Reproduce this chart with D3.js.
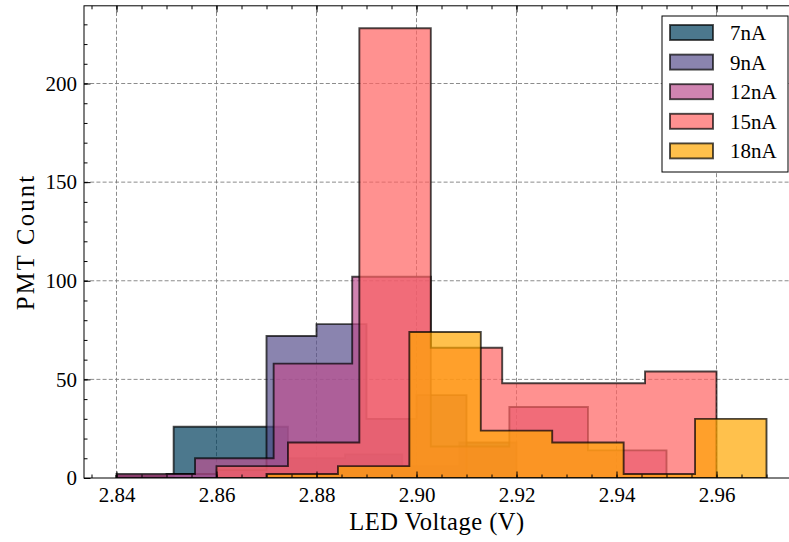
<!DOCTYPE html>
<html>
<head>
<meta charset="utf-8">
<script src="https://cdn.jsdelivr.net/npm/d3@7"></script>
<style>
  html, body { margin: 0; padding: 0; background: #fff; }
  svg { display: block; }
  text { font-family: "Liberation Serif", "DejaVu Serif", serif; fill: #000; }
</style>
</head>
<body>
<svg id="chart" width="789" height="542"></svg>
<script>
// Histogram bin edges (V) and counts for each LED current setting
const seriesNames = ["7nA", "9nA", "12nA", "15nA", "18nA"];
const seriesColors = ["#003f5c", "#58508d", "#bc5090", "#ff6361", "#ffa600"];

const edges7nA  = [2.84, 2.85143, 2.86286, 2.87429, 2.88571, 2.89714, 2.90857, 2.92];
const counts7nA = [1, 26, 26, 10, 12, 6, 18];

const edges9nA  = [2.84, 2.85, 2.86, 2.87, 2.88, 2.89, 2.90, 2.91];
const counts9nA = [1, 2, 4, 72, 78, 30, 42];

const edges12nA  = [2.84, 2.85571, 2.87143, 2.88714, 2.90286, 2.91857, 2.93429, 2.95];
const counts12nA = [2, 10, 58, 102, 16, 36, 14];

const edges15nA  = [2.86, 2.87429, 2.88857, 2.90286, 2.91714, 2.93143, 2.94571, 2.96];
const counts15nA = [6, 18, 228, 66, 48, 48, 54];

const edges18nA  = [2.87, 2.88429, 2.89857, 2.91286, 2.92714, 2.94143, 2.95571, 2.97];
const counts18nA = [2, 6, 74, 24, 18, 2, 30];

const xTickValues = [2.84, 2.86, 2.88, 2.90, 2.92, 2.94, 2.96];
const yTickValues = [0, 50, 100, 150, 200];

const xLabel = "LED Voltage (V)";
const yLabel = "PMT Count";

const allEdges = [edges7nA, edges9nA, edges12nA, edges15nA, edges18nA];
const allCounts = [counts7nA, counts9nA, counts12nA, counts15nA, counts18nA];

const svg = d3.select("#chart");
const plot = { left: 84, right: 799, top: 5.8, bottom: 478 };

// x gets 5% padding on each side of the data span; y starts at zero
const xMin = d3.min(allEdges, e => e[0]);
const xMax = d3.max(allEdges, e => e[e.length - 1]);
const xPad = (xMax - xMin) * 0.05;
const yMax = d3.max(allCounts, c => d3.max(c)) * 1.05;

const x = d3.scaleLinear().domain([xMin - xPad, xMax + xPad]).range([plot.left, plot.right]);
const y = d3.scaleLinear().domain([0, yMax]).range([plot.bottom, plot.top]);

svg.append("defs").append("clipPath").attr("id", "plotClip")
  .append("rect").attr("x", plot.left).attr("y", plot.top)
  .attr("width", plot.right - plot.left).attr("height", plot.bottom - plot.top);

// dashed grid
const grid = svg.append("g").attr("class", "grid");
grid.selectAll("line.gx").data(xTickValues).join("line")
  .attr("x1", d => x(d)).attr("x2", d => x(d))
  .attr("y1", plot.top).attr("y2", plot.bottom)
  .attr("stroke", "#7f7f7f").attr("stroke-width", 0.9).attr("stroke-dasharray", "4,2.2");
grid.selectAll("line.gy").data(yTickValues.filter(v => v > 0)).join("line")
  .attr("x1", plot.left).attr("x2", plot.right)
  .attr("y1", d => y(d)).attr("y2", d => y(d))
  .attr("stroke", "#7f7f7f").attr("stroke-width", 0.9).attr("stroke-dasharray", "4,2.2");

// step-filled histograms
function stepPoints(edges, counts) {
  const pts = [[edges[0], 0]];
  counts.forEach((c, i) => {
    pts.push([edges[i], c]);
    pts.push([edges[i + 1], c]);
  });
  pts.push([edges[edges.length - 1], 0]);
  return pts;
}
const line = d3.line().x(d => x(d[0])).y(d => y(d[1]));

const hist = svg.append("g").attr("clip-path", "url(#plotClip)");
seriesNames.forEach((name, i) => {
  hist.append("path")
    .attr("d", line(stepPoints(allEdges[i], allCounts[i])) + "Z")
    .attr("fill", seriesColors[i]).attr("fill-opacity", 0.7)
    .attr("stroke", "#000").attr("stroke-opacity", 0.7)
    .attr("stroke-width", 1.9).attr("stroke-linejoin", "miter");
});

// axes: inward ticks on all four sides, with minor ticks
const xMinor = d3.range(2.835, 2.9766, 0.005);
const yMinor = d3.range(0, 240, 10);

function styleAxis(g) {
  g.select(".domain").remove();
  g.selectAll(".tick line").attr("stroke", "#000").attr("stroke-width", 1);
}

svg.append("g").attr("transform", `translate(0,${plot.bottom})`)
  .call(d3.axisBottom(x).tickValues(xMinor).tickSize(-3.5).tickFormat(""))
  .call(styleAxis);
svg.append("g").attr("transform", `translate(0,${plot.top})`)
  .call(d3.axisTop(x).tickValues(xMinor).tickSize(-3.5).tickFormat(""))
  .call(styleAxis);
svg.append("g").attr("transform", `translate(${plot.left},0)`)
  .call(d3.axisLeft(y).tickValues(yMinor).tickSize(-3.5).tickFormat(""))
  .call(styleAxis);
svg.append("g").attr("transform", `translate(${plot.right},0)`)
  .call(d3.axisRight(y).tickValues(yMinor).tickSize(-3.5).tickFormat(""))
  .call(styleAxis);

const xAxis = svg.append("g").attr("transform", `translate(0,${plot.bottom})`)
  .call(d3.axisBottom(x).tickValues(xTickValues).tickSize(-6.5).tickPadding(9).tickFormat(d3.format(".2f")))
  .call(styleAxis);
xAxis.selectAll("text").attr("font-size", 21);
svg.append("g").attr("transform", `translate(0,${plot.top})`)
  .call(d3.axisTop(x).tickValues(xTickValues).tickSize(-6.5).tickFormat(""))
  .call(styleAxis);

const yAxis = svg.append("g").attr("transform", `translate(${plot.left},0)`)
  .call(d3.axisLeft(y).tickValues(yTickValues).tickSize(-6.5).tickPadding(7).tickFormat(d3.format("d")))
  .call(styleAxis);
yAxis.selectAll("text").attr("font-size", 21);
svg.append("g").attr("transform", `translate(${plot.right},0)`)
  .call(d3.axisRight(y).tickValues(yTickValues).tickSize(-6.5).tickFormat(""))
  .call(styleAxis);

// frame
svg.append("rect")
  .attr("x", plot.left).attr("y", plot.top)
  .attr("width", plot.right - plot.left).attr("height", plot.bottom - plot.top)
  .attr("fill", "none").attr("stroke", "#000").attr("stroke-width", 1);

// axis titles
svg.append("text")
  .attr("x", 437).attr("y", 530)
  .attr("text-anchor", "middle").attr("font-size", 24.5)
  .attr("letter-spacing", 0.5)
  .text(xLabel);
svg.append("text")
  .attr("transform", `translate(34,${(plot.top + plot.bottom) / 2}) rotate(-90)`)
  .attr("text-anchor", "middle").attr("font-size", 24.5)
  .attr("letter-spacing", 2.3)
  .text(yLabel);

// legend
const legend = svg.append("g");
legend.append("rect")
  .attr("x", 662).attr("y", 16).attr("width", 126).attr("height", 156)
  .attr("fill", "#fff").attr("stroke", "#000").attr("stroke-width", 1);
seriesNames.forEach((name, i) => {
  const cy = 32.5 + i * 29.6;
  legend.append("rect")
    .attr("x", 670).attr("y", cy - 7.5).attr("width", 43).attr("height", 15)
    .attr("fill", seriesColors[i]).attr("fill-opacity", 0.7)
    .attr("stroke", "#000").attr("stroke-opacity", 0.7).attr("stroke-width", 1.9);
  legend.append("text")
    .attr("x", 730).attr("y", cy + 7.5)
    .attr("font-size", 21)
    .text(name);
});
</script>
</body>
</html>
